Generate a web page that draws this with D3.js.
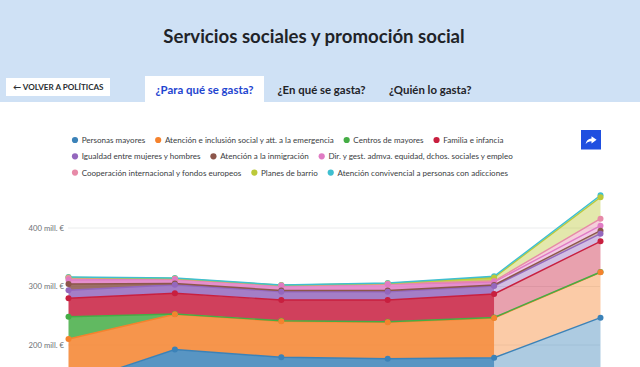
<!DOCTYPE html>
<html lang="es"><head><meta charset="utf-8">
<script src="https://cdnjs.cloudflare.com/ajax/libs/d3/7.8.5/d3.min.js"></script>
<style>html,body{margin:0;padding:0;background:#fff;overflow:hidden}svg{display:block;font-family:Lato,sans-serif}</style>
</head><body><svg id="c" width="640" height="367"></svg>
<script>
const title = "Servicios sociales y promoción social";
const backLabel = "← VOLVER A POLÍTICAS";
const tabs = ["¿Para qué se gasta?", "¿En qué se gasta?", "¿Quién lo gasta?"];
const periods = ["p1", "p2", "p3", "p4", "p5", "p6"];
const yTicks = [200, 300, 400];
const names = ["Personas mayores","Atención e inclusión social y att. a la emergencia","Centros de mayores","Familia e infancia","Igualdad entre mujeres y hombres","Atención a la inmigración","Dir. y gest. admva. equidad, dchos. sociales y empleo","Cooperación internacional y fondos europeos","Planes de barrio","Atención convivencial a personas con adicciones"];
const colors = ["#3b82b8","#f5822d","#45ad45","#c81f3f","#9467bd","#8c564b","#e07bc4","#e78aa8","#bcc93a","#3fbfd0"];
const legendRows = [[0,1,2,3],[4,5,6],[7,8,9]];
const personasMayores = [131.6,192.3,179,176.6,178.3,246.7];
const atencionInclusion = [78.7,60.2,61.5,62.2,67.9,77.6];
const centrosMayores = [38.1,0.5,1,1,0.8,0.5];
const familiaInfancia = [31.4,35.4,35.4,37.1,40.2,52.5];
const igualdad = [13.7,14.7,14.2,14.2,13.7,13];
const inmigracion = [10.8,2,2.1,2.1,1.7,5.1];
const direccion = [6.8,7.2,8.2,10.6,5.1,8.6];
const cooperacion = [3.4,0.5,0.3,0.5,1.7,11.9];
const planesBarrio = [0.9,0.9,0.5,0.8,6,36.6];
const convivencial = [0.8,0.8,0.4,0.9,2,3.4];
const seriesValues = [personasMayores,atencionInclusion,centrosMayores,familiaInfancia,igualdad,inmigracion,direccion,cooperacion,planesBarrio,convivencial];

const svg = d3.select("#c");
const W = 640, H = 367;
svg.append("rect").attr("width",W).attr("height",102).attr("fill","#cfe1f5");
svg.append("text").attr("x",314).attr("y",42.5).attr("text-anchor","middle").attr("font-size",18.6).attr("font-weight",700).attr("fill","#1f2328").text(title);
svg.append("rect").attr("x",6).attr("y",78).attr("width",104).attr("height",18).attr("fill","#fff");
svg.append("text").attr("x",13).attr("y",90).attr("font-size",8.1).attr("font-weight",700).attr("fill","#2a2d31").text(backLabel);
svg.append("rect").attr("x",145).attr("y",76).attr("width",119).attr("height",27).attr("fill","#fff");
const tabX = [155.5,277.5,389];
svg.selectAll("text.tab").data(tabs).join("text").attr("class","tab")
  .attr("x",(d,i)=>tabX[i]).attr("y",94).attr("font-size",11.4).attr("font-weight",700)
  .attr("fill",(d,i)=>i===0?"#1f45d0":"#1f2328").text(d=>d);

// legend
legendRows.forEach((row,ri)=>{
  let x = 75;
  const y = 140 + ri*16.3;
  row.forEach(k=>{
    svg.append("circle").attr("cx",x).attr("cy",y).attr("r",3.1).attr("fill",colors[k]);
    const t = svg.append("text").attr("x",x+6.7).attr("y",y+3).attr("font-size",8.05).attr("fill","#3a3d42").text(names[k]);
    x += 6.7 + t.node().getComputedTextLength() + 13;
  });
});
// share button
svg.append("rect").attr("x",581).attr("y",130).attr("width",20).attr("height",19.5).attr("fill","#1f4fe0");
svg.append("path").attr("d","M591.5 136.2 L596.6 139.8 L591.5 143.4 L591.5 141.2 C588.8 141.2 587.2 142 585.6 144.2 C586.1 140.8 588 138.7 591.5 138.4 Z").attr("fill","#fff");

// chart
const x = d3.scalePoint().domain(periods).range([68.5,600.5]);
const y = d3.scaleLinear().domain([200,400]).range([345,228]);
const rows = periods.map((p,i)=>{const o={p};names.forEach((n,k)=>o[n]=seriesValues[k][i]);return o;});
const stacked = d3.stack().keys(names)(rows);
const g = svg.append("g");
g.selectAll("line.grid").data(yTicks).join("line").attr("class","grid")
  .attr("x1",68.5).attr("x2",600.5).attr("y1",d=>y(d)).attr("y2",d=>y(d))
  .attr("stroke","#d5d8da").attr("stroke-width",1).attr("stroke-dasharray","1 1");
g.selectAll("text.tick").data(yTicks).join("text").attr("class","tick")
  .attr("x",64).attr("y",d=>y(d)+2.8).attr("text-anchor","end").attr("font-size",7.7).attr("fill","#6d7075")
  .text(d=>d+" mill. €");
const area = d3.area().x(d=>x(d.data.p)).y0(d=>y(d[0])).y1(d=>y(d[1]));
const line = d3.line().x(d=>x(d.data.p)).y(d=>y(d[1]));
stacked.forEach((s,k)=>{
  g.append("path").attr("d",area(s.slice(0,5))).attr("fill",colors[k]).attr("fill-opacity",0.85);
  g.append("path").attr("d",area(s.slice(4))).attr("fill",colors[k]).attr("fill-opacity",0.42);
});
stacked.forEach((s,k)=>{
  g.append("path").attr("d",line(s)).attr("fill","none").attr("stroke",colors[k]).attr("stroke-width",1.4);
});
// markers: upper series first, so lower series sit on top where they coincide
stacked.slice().reverse().forEach(s=>{
  const k = names.indexOf(s.key);
  g.selectAll(null).data(s).join("circle").attr("cx",d=>x(d.data.p)).attr("cy",d=>y(d[1])).attr("r",3).attr("fill",colors[k]);
});
</script></body></html>
